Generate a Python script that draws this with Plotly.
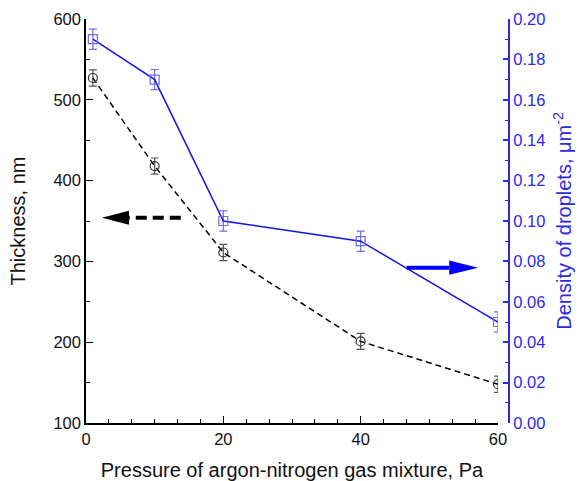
import plotly.graph_objects as go

# ---- data ----
pressure = [1, 10, 20, 40, 60]
thickness = [527, 418, 311, 201, 148]
thickness_err = [10, 10, 10, 10, 10]
density = [0.190, 0.170, 0.100, 0.090, 0.050]
density_err = [0.005, 0.005, 0.005, 0.005, 0.005]

x_title = "Pressure of argon-nitrogen gas mixture, Pa"
y_title = "Thickness, nm"
y2_title = "Density of droplets, μm<sup>-2</sup>"

# arrow annotations (data coordinates)
black_arrow = dict(tip=2.3, base=6.26, tail=13.8, y=354, half=8.7)
blue_arrow = dict(tail=46.7, base=52.9, tip=57.1, y=0.0769, half=0.0035)

BLUE = "#1414e6"
AXBLUE = "#2b2be6"
FONT = "Liberation Sans, Arial, sans-serif"

fig = go.Figure()

fig.add_trace(go.Scatter(
    x=pressure, y=thickness, mode="lines+markers",
    line=dict(color="black", width=1.5, dash="6px,4px"),
    marker=dict(symbol="circle-open", size=9, color="#333333", line=dict(width=1.2)),
    error_y=dict(type="data", array=thickness_err, color="#555555", thickness=1.2, width=4),
    showlegend=False, yaxis="y"))

fig.add_trace(go.Scatter(
    x=pressure, y=density, mode="lines+markers",
    line=dict(color=BLUE, width=1.5),
    marker=dict(symbol="square-open", size=9, color="#6e6ee0", line=dict(width=1.2)),
    error_y=dict(type="data", array=density_err, color="#6e6ee0", thickness=1.2, width=4),
    showlegend=False, yaxis="y2"))

# black arrow (left-pointing, dashed shaft)
ba = black_arrow
fig.add_shape(type="line", xref="x", yref="y", x0=ba["tail"], x1=ba["base"], y0=ba["y"], y1=ba["y"],
              line=dict(color="black", width=4, dash="11px,6px"))
fig.add_shape(type="path", xref="x", yref="y",
              path=f"M {ba['tip']},{ba['y']} L {ba['base']},{ba['y'] + ba['half']} L {ba['base']},{ba['y'] - ba['half']} Z",
              fillcolor="black", line=dict(color="black", width=0))

# blue arrow (right-pointing, solid shaft)
bb = blue_arrow
fig.add_shape(type="line", xref="x", yref="y2", x0=bb["tail"], x1=bb["base"], y0=bb["y"], y1=bb["y"],
              line=dict(color="#0000ff", width=4))
fig.add_shape(type="path", xref="x", yref="y2",
              path=f"M {bb['tip']},{bb['y']} L {bb['base']},{bb['y'] + bb['half']} L {bb['base']},{bb['y'] - bb['half']} Z",
              fillcolor="#0000ff", line=dict(color="#0000ff", width=0))

fig.update_layout(
    width=582, height=481,
    margin=dict(l=86, r=73, t=19, b=58, autoexpand=False),
    paper_bgcolor="white", plot_bgcolor="white",
    font=dict(family=FONT, size=16.5, color="#111111"),
    xaxis=dict(
        domain=[0, 0.974], range=[0, 60], dtick=20, tick0=0, automargin=False,
        ticks="inside", ticklen=7, tickwidth=1.3, tickcolor="black",
        showline=True, linecolor="black", linewidth=1.5,
        showgrid=False, zeroline=False,
        minor=dict(dtick=10 / 3, tick0=0, ticks="inside", ticklen=4, tickwidth=1.2, tickcolor="black"),
        title=dict(text=x_title, font=dict(size=20, color="#111111"), standoff=16),
        tickfont=dict(size=16.5),
    ),
    yaxis=dict(
        range=[100, 600], dtick=100, tick0=0, automargin=False,
        ticks="inside", ticklen=7, tickwidth=1.3, tickcolor="black",
        showline=True, linecolor="black", linewidth=1.5,
        showgrid=False, zeroline=False,
        minor=dict(dtick=50, ticks="inside", ticklen=4, tickwidth=1.2, tickcolor="black"),
        title=dict(text=y_title, font=dict(size=20, color="#111111"), standoff=22),
        tickfont=dict(size=16.5),
    ),
    yaxis2=dict(
        overlaying="y", side="right", anchor="free", position=1, automargin=False,
        range=[0, 0.2], dtick=0.02, tick0=0, tickformat=".2f",
        ticks="inside", ticklen=5, tickwidth=1.5, tickcolor=AXBLUE,
        showline=True, linecolor=AXBLUE, linewidth=2,
        showgrid=False, zeroline=False,
        minor=dict(dtick=0.01, ticks="inside", ticklen=3, tickwidth=1.3, tickcolor=AXBLUE),
        title=dict(text=y2_title, font=dict(size=20, color=AXBLUE), standoff=12),
        tickfont=dict(size=16.5, color=AXBLUE),
    ),
)

fig.write_html("out.html")
